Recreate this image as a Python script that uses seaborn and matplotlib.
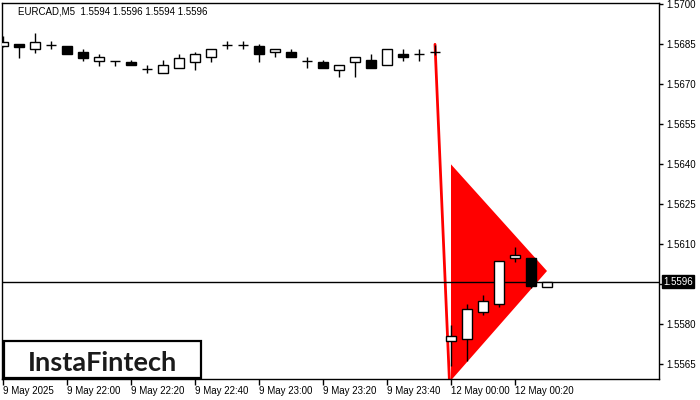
import matplotlib
matplotlib.use("Agg")
import matplotlib.pyplot as plt
import seaborn as sns
import numpy as np
import pandas as pd
from matplotlib.patches import Rectangle, Polygon
from matplotlib.transforms import blended_transform_factory

# ---------------- data ----------------
symbol_title = "EURCAD,M5  1.5594 1.5596 1.5594 1.5596"
logo_text = "InstaFintech"

time_tick_pos = [0, 4, 8, 12, 16, 20, 24, 28, 32]
time_tick_labels = ["9 May 2025", "9 May 22:00", "9 May 22:20", "9 May 22:40",
                    "9 May 23:00", "9 May 23:20", "9 May 23:40",
                    "12 May 00:00", "12 May 00:20"]

opens = [1.56844, 1.56851, 1.56831, 1.56849, 1.56844, 1.56821, 1.56789, 1.56789,
         1.56783, 1.56757, 1.56741, 1.56760, 1.56783, 1.56801, 1.56847, 1.56847,
         1.56844, 1.56820, 1.56821, 1.56789, 1.56783, 1.56752, 1.56783, 1.56791,
         1.56771, 1.56814, 1.56813, 1.56821,
         1.55736, 1.55746, 1.55845, 1.55875, 1.56048, 1.56048, 1.55940]
highs = [1.56881, 1.56851, 1.56891, 1.56862, 1.56844, 1.56832, 1.56814, 1.56789,
         1.56791, 1.56772, 1.56791, 1.56814, 1.56822, 1.56831, 1.56862, 1.56862,
         1.56851, 1.56831, 1.56832, 1.56803, 1.56791, 1.56771, 1.56801, 1.56814,
         1.56832, 1.56832, 1.56832, 1.56847,
         1.55796, 1.55876, 1.55910, 1.56036, 1.56089, 1.56048, 1.55960]
lows = [1.56840, 1.56800, 1.56819, 1.56831, 1.56813, 1.56789, 1.56770, 1.56769,
        1.56771, 1.56741, 1.56741, 1.56760, 1.56754, 1.56783, 1.56831, 1.56831,
        1.56783, 1.56801, 1.56801, 1.56760, 1.56760, 1.56728, 1.56728, 1.56760,
        1.56771, 1.56789, 1.56789, 1.56810,
        1.55644, 1.55664, 1.55836, 1.55866, 1.56035, 1.55937, 1.55940]
closes = [1.56860, 1.56841, 1.56860, 1.56849, 1.56813, 1.56800, 1.56801, 1.56789,
          1.56771, 1.56757, 1.56772, 1.56800, 1.56813, 1.56831, 1.56847, 1.56847,
          1.56813, 1.56831, 1.56801, 1.56789, 1.56760, 1.56771, 1.56801, 1.56760,
          1.56832, 1.56801, 1.56813, 1.56821,
          1.55756, 1.55856, 1.55886, 1.56036, 1.56060, 1.55945, 1.55960]

current_price = 1.5596
current_label = "1.5596"

pole_x = [27.0, 27.9]
pole_y = [1.5685, 1.5559]
pennant_x = [28.0, 28.0, 34.0]
pennant_y = [1.5640, 1.5559, 1.5600]

price_ticks = [1.5565, 1.5580, 1.5595, 1.5610, 1.5625, 1.5640,
               1.5655, 1.5670, 1.5685, 1.5700]

# ---------------- style ----------------
sns.set_theme(style="white")
plt.rcParams["font.family"] = ["Liberation Sans", "DejaVu Sans"]

W, H = 700, 400
fig = plt.figure(figsize=(7, 4), dpi=100)
fig.patch.set_facecolor("white")
L, R, T, B = 2, 659, 3, 379
ax = fig.add_axes([L / W, 1 - B / H, (R - L) / W, (B - T) / H])
ax.set_facecolor("white")

df = pd.DataFrame({"idx": np.arange(len(opens)), "open": opens, "high": highs,
                   "low": lows, "close": closes})

# pennant triangle
ax.add_patch(Polygon(list(zip(pennant_x, pennant_y)), closed=True,
                     facecolor="#ff0000", edgecolor="none", zorder=1))
# flag pole
sns.lineplot(x=pole_x, y=pole_y, color="#ff0000", lw=2, ax=ax, zorder=2)

# current price line
ax.axhline(current_price, color="black", lw=1, zorder=3)

# candles
bw = 0.64
for _, r in df.iterrows():
    i = r["idx"]
    ax.vlines(i, r["low"], r["high"], color="black", lw=1, zorder=4)
    o, c = r["open"], r["close"]
    if abs(c - o) < 1e-7:
        ax.hlines(o, i - bw / 2, i + bw / 2, color="black", lw=1, zorder=5)
    else:
        fc = "white" if c > o else "black"
        ax.add_patch(Rectangle((i - bw / 2, min(o, c)), bw, abs(c - o),
                               facecolor=fc, edgecolor="black", lw=1, zorder=5))

ax.set_xlim(-0.0625, 41)
ax.set_ylim(1.55595, 1.57005)

# axes frame
for s in ax.spines.values():
    s.set_visible(True)
    s.set_color("black")
    s.set_linewidth(1)

ax.yaxis.tick_right()
ax.set_yticks(price_ticks)
# the 1.5595 label sits under the current-price tag in the reference
ax.set_yticklabels(["" if abs(v - current_price) < 0.0003 else f"{v:.4f}"
                    for v in price_ticks])
ax.tick_params(axis="y", which="both", direction="out", length=3, width=1,
               color="black", labelsize=7, pad=2, labelcolor="black",
               right=True, left=False)
ax.set_xticks(time_tick_pos)
ax.set_xticklabels(time_tick_labels, ha="left")
ax.tick_params(axis="x", which="both", direction="out", length=4, width=1,
               color="black", labelsize=7, pad=1, labelcolor="black",
               bottom=True)
ax.grid(False)

# current price tag
tr = blended_transform_factory(ax.transAxes, ax.transData)
ax.text(1.0 + 4 / (R - L), current_price, current_label, transform=tr,
        ha="left", va="center", fontsize=7, color="white", clip_on=False,
        zorder=10,
        bbox=dict(boxstyle="square,pad=0.15", facecolor="black",
                  edgecolor="black"))

# title
fig.text(18 / W, 1 - 11 / H, symbol_title, ha="left", va="center",
         fontsize=7, color="black")

# logo box
fig.patches.append(Rectangle((4 / W, 1 - 378 / H), 197 / W, 37 / H,
                             transform=fig.transFigure, facecolor="white",
                             edgecolor="black", lw=1.6, zorder=20))
fig.text(102 / W, 1 - 371 / H, logo_text, ha="center", va="baseline",
         fontsize=19.5, color="#1a1a1a", family=["Lato", "DejaVu Sans"],
         weight="bold", zorder=21)

fig.savefig("out.png", dpi=100, facecolor="white")
